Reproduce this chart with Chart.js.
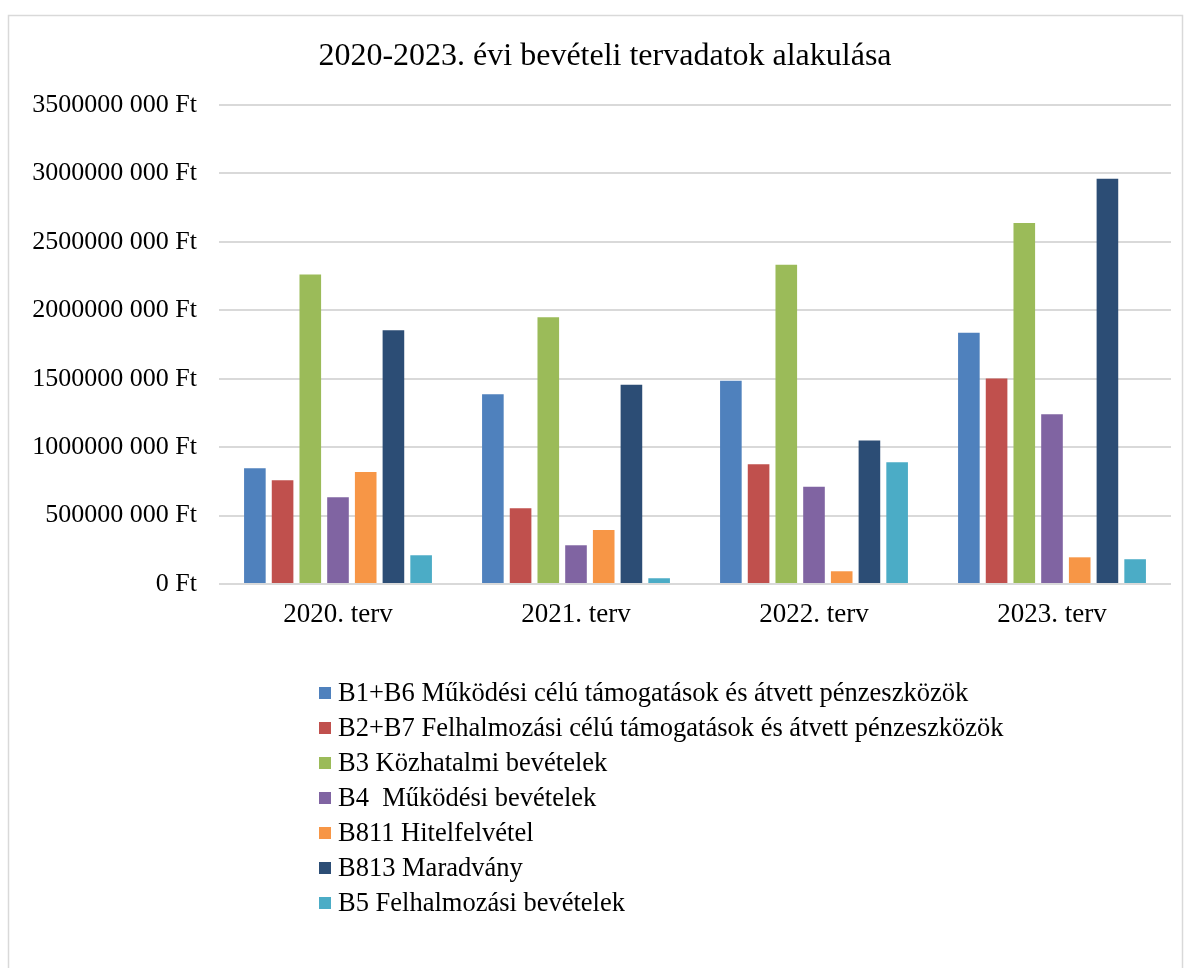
<!DOCTYPE html>
<html>
<head>
<meta charset="utf-8">
<script src="https://cdn.jsdelivr.net/npm/chart.js@4/dist/chart.umd.min.js"></script>
<style>
html,body{margin:0;padding:0;background:#fff;}
#wrap{width:1187px;height:968px;position:relative;}
</style>
</head>
<body>
<div id="wrap"><canvas id="c" width="1187" height="968"></canvas></div>
<script>
const categories = ['2020. terv', '2021. terv', '2022. terv', '2023. terv'];
const seriesNames = [
  'B1+B6 Működési célú támogatások és átvett pénzeszközök',
  'B2+B7 Felhalmozási célú támogatások és átvett pénzeszközök',
  'B3 Közhatalmi bevételek',
  'B4  Működési bevételek',
  'B811 Hitelfelvétel',
  'B813 Maradvány',
  'B5 Felhalmozási bevételek'
];
const b1b6 = [846e6, 1387e6, 1486e6, 1835e6];
const b2b7 = [758e6, 553e6, 875e6, 1501e6];
const b3 = [2261e6, 1950e6, 2332e6, 2637e6];
const b4 = [634e6, 283e6, 711e6, 1240e6];
const b811 = [819e6, 395e6, 93e6, 195e6];
const b813 = [1855e6, 1455e6, 1048e6, 2961e6];
const b5 = [210e6, 42e6, 890e6, 181e6];
const yTickLabels = ['0 Ft', '500000 000 Ft', '1000000 000 Ft', '1500000 000 Ft', '2000000 000 Ft', '2500000 000 Ft', '3000000 000 Ft', '3500000 000 Ft'];
const chartTitle = '2020-2023. évi bevételi tervadatok alakulása';

const colors = ['#4F81BD', '#C0504D', '#9BBB59', '#8064A2', '#F79646', '#2C4D75', '#4BACC6'];
const seriesData = [b1b6, b2b7, b3, b4, b811, b813, b5];
const FONT = "'Liberation Serif', 'Times New Roman', serif";

const frameTitleLegend = {
  id: 'frameTitleLegend',
  beforeDraw(chart) {
    const ctx = chart.ctx;
    ctx.save();
    ctx.fillStyle = '#fff';
    ctx.fillRect(0, 0, chart.width, chart.height);
    ctx.strokeStyle = '#d9d9d9';
    ctx.lineWidth = 1.5;
    ctx.strokeRect(8.5, 15.5, 1174, 1000);
    ctx.restore();
  },
  afterDraw(chart) {
    const ctx = chart.ctx;
    ctx.save();
    ctx.fillStyle = '#000';
    ctx.font = '32px ' + FONT;
    ctx.textAlign = 'center';
    ctx.textBaseline = 'middle';
    ctx.fillText(chartTitle, 605, 57);
    ctx.font = '26.5px ' + FONT;
    ctx.textAlign = 'left';
    chart.data.datasets.forEach((ds, i) => {
      const y = 693 + i * 35;
      ctx.fillStyle = ds.backgroundColor;
      ctx.fillRect(319, y - 6, 12, 12);
      ctx.fillStyle = '#000';
      ctx.fillText(ds.label, 338, y + 1);
    });
    ctx.restore();
  }
};

new Chart(document.getElementById('c'), {
  type: 'bar',
  data: {
    labels: categories,
    datasets: seriesNames.map((name, i) => ({
      label: name,
      data: seriesData[i],
      backgroundColor: colors[i],
      borderWidth: 0,
      categoryPercentage: 0.815,
      barPercentage: 0.78
    }))
  },
  options: {
    responsive: false,
    animation: false,
    layout: { padding: { top: 105, left: 0, right: 16, bottom: 324 } },
    plugins: {
      legend: { display: false },
      tooltip: { enabled: false },
      title: { display: false }
    },
    scales: {
      x: {
        grid: { display: false, drawTicks: false },
        border: { display: false },
        ticks: { color: '#000', font: { family: FONT, size: 27 }, padding: 15 },
        afterFit(scale) { scale.height = 60; }
      },
      y: {
        min: 0,
        max: 3500000000,
        grid: { color: '#d9d9d9', lineWidth: 2, drawTicks: false },
        border: { display: false },
        ticks: {
          stepSize: 500000000,
          color: '#000',
          font: { family: FONT, size: 26 },
          padding: 22,
          callback: (v, i) => yTickLabels[i]
        },
        afterFit(scale) { scale.width = 219; }
      }
    }
  },
  plugins: [frameTitleLegend]
});
</script>
</body>
</html>
